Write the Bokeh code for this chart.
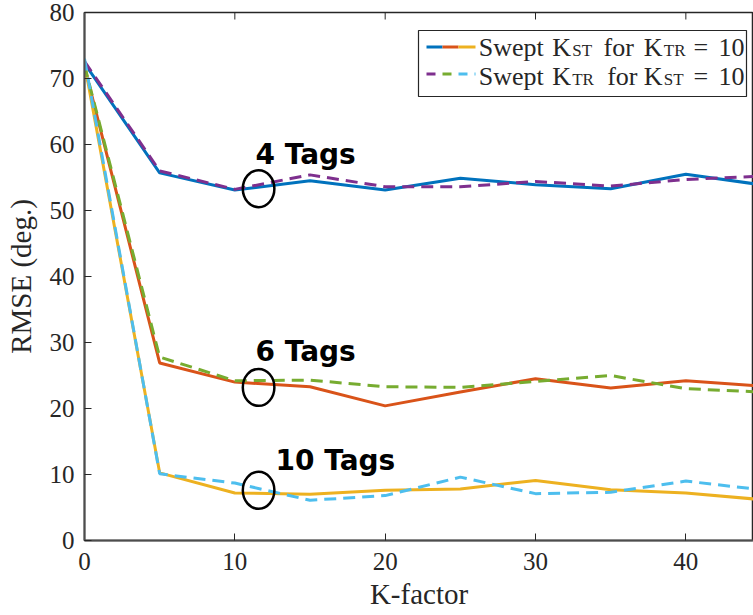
from bokeh.plotting import figure
from bokeh.models import Range1d, FixedTicker
from bokeh.core.properties import value
from bokeh.embed import file_html
from bokeh.resources import INLINE

# ---------------- data ----------------
k_factor = [0, 5, 10, 15, 20, 25, 30, 35, 40, 45]
# Swept K_ST for K_TR = 10 (solid)
st_4tags = [72.3, 55.7, 53.1, 54.5, 53.1, 54.9, 53.9, 53.3, 55.5, 53.9]
st_6tags = [71.8, 26.9, 24.0, 23.3, 20.4, 22.5, 24.5, 23.1, 24.2, 23.4]
st_10tags = [72.3, 10.25, 7.2, 7.0, 7.6, 7.8, 9.1, 7.7, 7.2, 6.2]
# Swept K_TR for K_ST = 10 (dashed)
tr_4tags = [72.6, 56.0, 53.2, 55.4, 53.6, 53.6, 54.4, 53.7, 54.7, 55.2]
tr_6tags = [72.0, 27.8, 24.2, 24.3, 23.3, 23.2, 24.1, 25.0, 23.0, 22.5]
tr_10tags = [73.0, 10.1, 8.7, 6.1, 6.8, 9.6, 7.1, 7.3, 9.0, 7.7]

x_ticks = [0, 10, 20, 30, 40]
y_ticks = [0, 10, 20, 30, 40, 50, 60, 70, 80]

ann_text = ["4 Tags", "6 Tags", "10 Tags"]
ann_text_x = [11.37, 11.37, 12.7]
ann_text_y = [57.2, 27.4, 10.9]
ell_x = [11.58, 11.58, 11.58]
ell_y = [53.3, 23.2, 7.6]

BLUE, RED, YELLOW = "#0072BD", "#D95319", "#EDB120"
PURPLE, GREEN, CYAN = "#7E2F8E", "#77AC30", "#4DBEEE"
AX = "#262626"
SERIF = "Liberation Serif"

X0, X1, Y0, Y1 = 0, 44.5, 0, 80
W, H = 753, 615
FL, FR, FT, FB = 84, 753, 12, 540   # frame edges in page pixels
TXT_UP = 8                           # baseline correction for text glyphs (px)

p = figure(width=W, height=H, x_range=Range1d(X0, X1), y_range=Range1d(Y0, Y1),
           output_backend="svg", toolbar_location=None,
           min_border_left=FL, min_border_right=W - FR, min_border_top=FT,
           min_border_bottom=H - FB)
p.xgrid.visible = False
p.ygrid.visible = False
p.background_fill_color = "white"
p.border_fill_color = "white"
p.outline_line_color = AX
p.outline_line_width = 1.5

for ax, ticks in ((p.xaxis, x_ticks), (p.yaxis, y_ticks)):
    ax.ticker = FixedTicker(ticks=ticks)
    ax.major_tick_in = 7
    ax.major_tick_out = 0
    ax.minor_tick_line_color = None
    ax.axis_line_color = "#4d4d4d"
    ax.axis_line_width = 2
    ax.major_tick_line_color = AX
    ax.major_label_text_font = SERIF
    ax.major_label_text_font_size = "25px"
    ax.major_label_text_color = AX
    ax.axis_label_text_font = SERIF
    ax.axis_label_text_font_style = "normal"
    ax.axis_label_text_font_size = "29px"
    ax.axis_label_text_color = AX

p.xaxis.axis_label = "K-factor"
p.yaxis.axis_label = "RMSE (deg.)"
p.xaxis.major_label_standoff = 12
p.xaxis.axis_label_standoff = 5
p.yaxis.major_label_standoff = 10
p.yaxis.axis_label_standoff = 10


def dx(px):
    return X0 + (px - FL) / (FR - FL) * (X1 - X0)


def dy(py):
    return Y0 + (FB - py) / (FB - FT) * (Y1 - Y0)


px_y = (Y1 - Y0) / (FB - FT)   # data units per pixel (y)

# inward ticks on the top box edge (from the tick list)
tick_len = 7 * px_y
p.segment(x0=x_ticks, y0=[Y1] * len(x_ticks), x1=x_ticks, y1=[Y1 - tick_len] * len(x_ticks),
          line_color=AX, line_width=1)

# series
p.line(k_factor, st_4tags, line_color=BLUE, line_width=3)
p.line(k_factor, st_6tags, line_color=RED, line_width=3)
p.line(k_factor, st_10tags, line_color=YELLOW, line_width=3)
p.line(k_factor, tr_4tags, line_color=PURPLE, line_width=3, line_dash="12 7")
p.line(k_factor, tr_6tags, line_color=GREEN, line_width=3, line_dash="12 7")
p.line(k_factor, tr_10tags, line_color=CYAN, line_width=3, line_dash="12 7")

# annotations
p.ellipse(x=ell_x, y=ell_y, width=2.1, height=5.6, fill_color=None,
          line_color="black", line_width=2.5)
p.text(x=ann_text_x, y=[v + TXT_UP * px_y for v in ann_text_y], text=ann_text,
       text_font=value("DejaVu Sans"), text_font_style="bold", text_font_size="28px",
       text_color="black", text_align="left", text_baseline="alphabetic")

# ---------------- legend (drawn by hand, page-pixel layout) ----------------
p.quad(left=[dx(418)], right=[dx(746)], top=[dy(30)], bottom=[dy(96)],
       fill_color="white", line_color=AX, line_width=1.2)

seg_x = [426, 442, 458, 475]
for i, c in enumerate([BLUE, RED, YELLOW]):
    p.segment(x0=[dx(seg_x[i])], y0=[dy(46.5)], x1=[dx(seg_x[i + 1])], y1=[dy(46.5)],
              line_color=c, line_width=3)
for i, c in enumerate([PURPLE, GREEN, CYAN]):
    p.segment(x0=[dx(seg_x[i])], y0=[dy(73.5)], x1=[dx(seg_x[i + 1])], y1=[dy(73.5)],
              line_color=c, line_width=3, line_dash="9 7")

rows = [
    (55.0, [("Swept", 478.3, False), ("K", 551.7, False), ("ST", 571.7, True),
            ("for", 603.0, False), ("K", 643.3, False), ("TR", 663.3, True),
            ("=", 693.0, False), ("10", 718.0, False)]),
    (84.0, [("Swept", 478.3, False), ("K", 551.7, False), ("TR", 571.7, True),
            ("for", 606.7, False), ("K", 643.3, False), ("ST", 663.3, True),
            ("=", 693.0, False), ("10", 718.0, False)]),
]
for base, pieces in rows:
    main = [pc for pc in pieces if not pc[2]]
    sub = [pc for pc in pieces if pc[2]]
    p.text(x=[dx(pc[1]) for pc in main], y=[dy(base - TXT_UP)] * len(main),
           text=[pc[0] for pc in main],
           text_font=value(SERIF), text_font_size="26px", text_color=AX,
           text_align="left", text_baseline="alphabetic")
    p.text(x=[dx(pc[1]) for pc in sub], y=[dy(base + 3.3 - TXT_UP)] * len(sub),
           text=[pc[0] for pc in sub],
           text_font=value(SERIF), text_font_size="17px", text_color=AX,
           text_align="left", text_baseline="alphabetic")

open("out.html", "w").write(file_html(p, INLINE))
